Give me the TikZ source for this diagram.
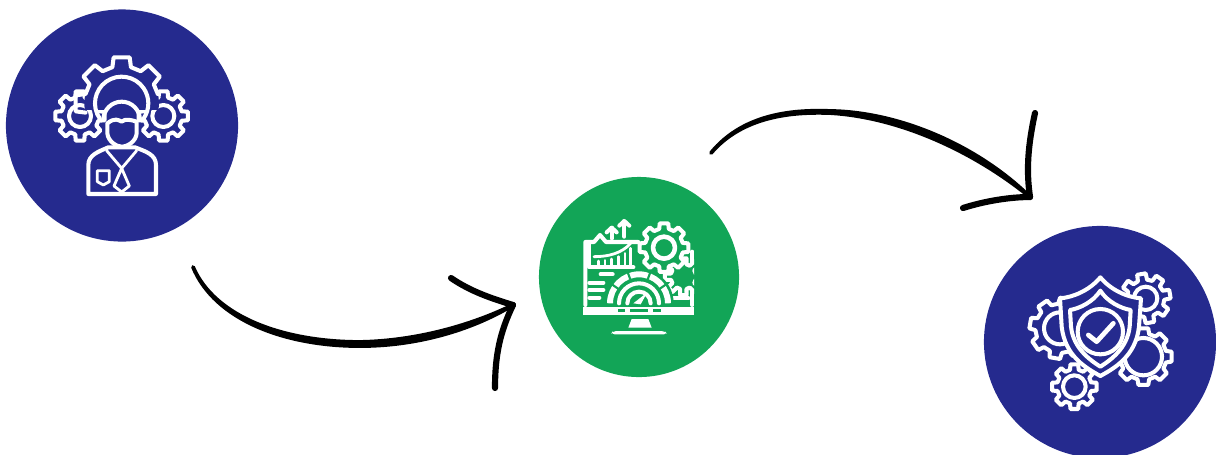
\documentclass[tikz,border=0pt]{standalone}
\definecolor{hubblue}{HTML}{252A8E}
\definecolor{hubgreen}{HTML}{12A557}
% [options]{centre}{inner r}{outer r}{tooth angle}{first tooth}{last tooth}
\newcommand{\gear}[7][]{%
    \draw[iconline,shift={(#2)},#1] ({(#6-0.32)*#5}:#3)
        \foreach \k in {#6,...,#7}{
            -- ({(\k-0.32)*#5}:#3) -- ({(\k-0.22)*#5}:#4) -- ({(\k+0.22)*#5}:#4)
            -- ({(\k+0.32)*#5}:#3) -- ({(\k+0.68)*#5}:#3)
        };%
}
\begin{document}
\begin{tikzpicture}[
    x=0.01cm, y=-0.01cm,
    hub/.style={circle, inner sep=0pt, minimum size=2.32cm},
    iconline/.style={draw=white, line width=1.15pt, line join=round, line cap=round},
    thinline/.style={iconline, line width=0.8pt},
    brush/.style={fill=black, draw=black, line width=1.1pt, line join=round, line cap=round},
    barb/.style={draw=black, line width=1.75pt, line join=round, line cap=round}
]
    \useasboundingbox (0,0) rectangle (1216,454);
    \clip (0,0) rectangle (1216,454);

    % circles
    \node[hub, fill=hubblue] (staff) at (122,125.5) {};
    \node[hub, fill=hubgreen, minimum size=2cm] (monitor) at (639,277) {};
    \node[hub, fill=hubblue] (shield) at (1100,342) {};

    % first arrow
    \coordinate (start1) at (193,267);
    \coordinate (bend1) at (360,346);
    \coordinate (tip1) at (513,305);
    \coordinate (barb1a) at (451,278);
    \coordinate (barb1b) at (495,388);
    \filldraw[brush] (start1) .. controls (215,320) and (285,346) .. (bend1)
        .. controls (415,346) and (470,331) .. (tip1)
        .. controls (470,326) and (415,341) .. (360,342)
        .. controls (285,342) and (215,318) .. (start1);
    \draw[barb] (barb1a) .. controls (470,291) and (490,298) .. (tip1);
    \draw[barb] (barb1b) .. controls (495,355) and (500,332) .. (tip1);

    % second arrow
    \coordinate (start2) at (711,153);
    \coordinate (bend2) at (830,113);
    \coordinate (tip2) at (1030,197);
    \coordinate (barb2a) at (1035,113);
    \coordinate (barb2b) at (963,208);
    \filldraw[brush] (start2) .. controls (745,113) and (800,112) .. (bend2)
        .. controls (900,117) and (975,152) .. (tip2)
        .. controls (978,146) and (900,112) .. (830,111)
        .. controls (800,110) and (745,111) .. (start2);
    \draw[barb] (barb2a) .. controls (1028,145) and (1026,170) .. (tip2);
    \draw[barb] (barb2b) .. controls (985,201) and (1010,197) .. (tip2);

    % person with gears
    \begin{scope}[shift={(40,40)}, scale=0.3333]
        \gear[fill=hubblue]{120,228}{57}{75}{45}{0}{7}
        \gear[fill=hubblue]{370,228}{57}{75}{45}{0}{7}
        \draw[iconline] (120,228) circle[radius=33];
        \draw[iconline] (370,228) circle[radius=33];
        \fill[hubblue] (245,190) ++(170:112) arc[start angle=170, end angle=370, radius=112] -- cycle;
        \gear{245,190}{112}{140}{45}{4}{7}
        \draw[iconline] (245,190) ++(145:80) arc[start angle=145, end angle=395, radius=80];
        \draw[iconline] (190,240) arc[start angle=180, end angle=360, radius=55];
        \draw[iconline, fill=hubblue] (145,462) -- (145,375) .. controls (145,345) and (175,335) .. (205,322)
            -- (285,322) .. controls (320,335) and (348,345) .. (348,375) -- (348,462) -- cycle;
        \draw[iconline, fill=hubblue] (202,250) -- (202,280) .. controls (205,305) and (230,320) .. (245,320)
            .. controls (262,320) and (288,305) .. (290,280) -- (290,245)
            .. controls (275,240) and (255,235) .. (245,245) .. controls (235,240) and (225,232) .. (202,250) -- cycle;
        \draw[thinline] (200,332) -- (245,385) -- (290,332);
        \draw[thinline] (245,385) -- (222,438) -- (245,456) -- (268,438) -- cycle;
        \draw[thinline] (172,392) -- (208,392) -- (208,425) -- (190,435) -- (172,425) -- cycle;
    \end{scope}

    % monitor with dial
    \begin{scope}[shift={(570,205)}, scale=0.3333]
        % screen
        \draw[iconline] (46,300) -- (46,111) -- (72,111) -- (90,90) -- (108,111) -- (205,111);
        \draw[iconline] (367,140) -- (367,300);
        \fill[white] (40,305) rectangle (372,330);
        \fill[hubgreen] (143,313) rectangle (165,322);
        \fill[hubgreen] (180,313) rectangle (235,322);
        \fill[hubgreen] (250,313) rectangle (272,322);
        \fill[white] (185,342) -- (235,342) -- (245,368) -- (175,368) -- cycle;
        \fill[white, rounded corners=1pt] (128,378) -- (285,378) -- (292,388) -- (123,388) -- cycle;
        % arrows
        \draw[iconline] (125,100) -- (125,68);
        \draw[iconline] (110,82) -- (125,68) -- (140,82);
        \draw[iconline] (163,95) -- (163,48);
        \draw[iconline] (148,62) -- (163,48) -- (178,62);
        % chart
        \draw[iconline] (58,118) -- (58,187) -- (190,187);
        \foreach \x/\h in {85/168,105/166,125/162,145/155,165/145,182/130}
            \draw[thinline] (\x,180) -- (\x,\h);
        \draw[thinline] (72,155) .. controls (115,155) and (155,145) .. (182,115);
        % text lines
        \foreach \xa/\xb/\y in {92/128/208,58/100/233,58/100/255,58/88/278,300/360/250,310/355/280}
            \draw[iconline] (\xa,\y) -- (\xb,\y);
        % gears
        \begin{scope}
            \clip (200,150) rectangle (372,300);
            \gear[fill=hubgreen]{340,215}{38}{56}{45}{0}{7}
        \end{scope}
        \gear[fill=hubgreen]{282,128}{58}{74}{45}{0}{7}
        \draw[iconline, line width=1.3pt] (282,128) circle[radius=33];
        % dial
        \fill[hubgreen] (103,302) -- (103,295) arc[start angle=180, end angle=360, radius=104] -- (311,302) -- cycle;
        \draw[iconline, line width=1.7pt, line cap=butt] (120,295) arc[start angle=180, end angle=360, radius=87];
        \foreach \a in {215,250,290,325}
            \draw[hubgreen, line width=0.6pt] (207,295) ++(\a:76) -- ++(\a:22);
        \draw[iconline] (147,295) arc[start angle=180, end angle=360, radius=60];
        \draw[iconline] (172,295) arc[start angle=180, end angle=360, radius=35];
        \fill[white] (190,295) -- (232,262) -- (212,298) -- cycle;
    \end{scope}

    % shield with gears
    \begin{scope}[shift={(1015,260)}, scale=0.3333]
        \gear[fill=hubblue, rotate=10]{392,115}{56}{75}{45}{0}{7}
        \draw[iconline] (392,115) circle[radius=35];
        \gear[fill=hubblue]{385,290}{70}{86}{45}{0}{7}
        \draw[iconline] (385,290) circle[radius=56];
        \gear[fill=hubblue, rotate=-10]{135,205}{74}{92}{45}{0}{7}
        \draw[iconline] (135,205) circle[radius=48];
        \gear[fill=hubblue]{178,380}{52}{68}{45}{0}{7}
        \draw[iconline] (178,380) circle[radius=34];
        \draw[iconline, fill=hubblue] (256,52) .. controls (225,90) and (175,112) .. (135,115)
            -- (140,200) .. controls (150,290) and (215,325) .. (256,348)
            .. controls (297,325) and (362,290) .. (372,200) -- (378,115)
            .. controls (337,112) and (287,90) .. (256,52) -- cycle;
        \draw[iconline] (256,92) .. controls (235,125) and (195,145) .. (165,150)
            -- (168,200) .. controls (175,265) and (225,300) .. (256,320)
            .. controls (287,300) and (337,265) .. (344,200) -- (347,150)
            .. controls (317,145) and (277,125) .. (256,92) -- cycle;
        \draw[iconline] (256,215) circle[radius=68];
        \draw[iconline, line width=1.35pt] (220,225) -- (245,245) -- (295,190);
    \end{scope}
\end{tikzpicture}
\end{document}
